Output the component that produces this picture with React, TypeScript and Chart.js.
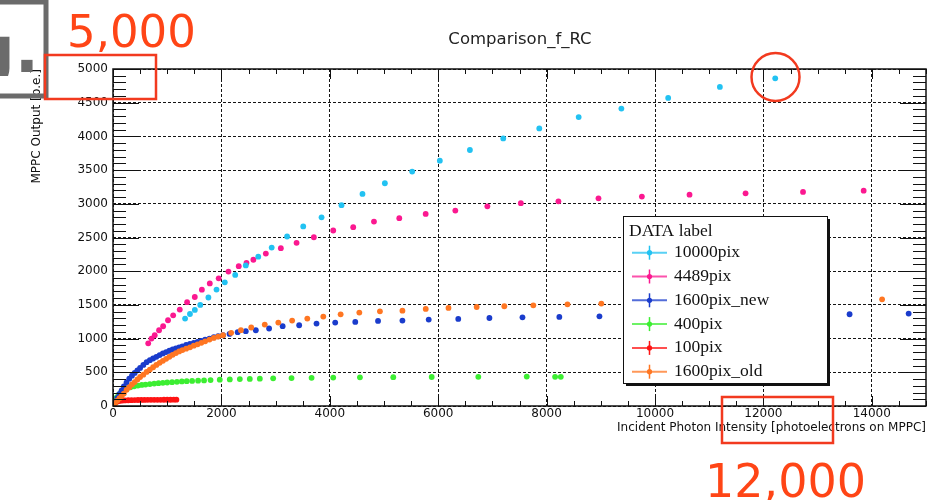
import React, { useEffect, useRef } from 'react';
import { Chart, registerables } from 'chart.js';

Chart.register(...registerables);

// ---------------- data ----------------
const chartTitle = 'Comparison_f_RC';
const xAxisTitle = 'Incident Photon Intensity [photoelectrons on MPPC]';
const yAxisTitle = 'MPPC Output [p.e.]';
const legendTitle = 'DATA label';

const xTicks = [0, 2000, 4000, 6000, 8000, 10000, 12000, 14000];
const yTicks = [0, 500, 1000, 1500, 2000, 2500, 3000, 3500, 4000, 4500, 5000];
const xMin = 0;
const xMax = 15000;
const yMin = 0;
const yMax = 5000;

const seriesNames = ['10000pix', '4489pix', '1600pix_new', '400pix', '100pix', '1600pix_old'];
const seriesColors = ['#22c2f2', '#fb1890', '#1a3ccc', '#3cee32', '#ff1414', '#ff7622'];

const x10000 = [1330, 1420, 1510, 1610, 1760, 1910, 2063, 2255, 2450, 2680, 2928, 3212, 3510, 3848, 4216, 4603, 5016, 5520, 6030, 6585, 7200, 7865, 8592, 9380, 10243, 11197, 12218];
const y10000 = [1297, 1365, 1425, 1500, 1610, 1728, 1835, 1945, 2085, 2215, 2350, 2515, 2665, 2800, 2980, 3147, 3305, 3478, 3640, 3798, 3970, 4118, 4286, 4413, 4571, 4734, 4862];

const x4489 = [650, 710, 770, 850, 925, 1015, 1110, 1232, 1367, 1509, 1640, 1786, 1950, 2130, 2320, 2463, 2590, 2820, 3097, 3387, 3706, 4063, 4432, 4815, 5282, 5769, 6316, 6907, 7525, 8218, 8957, 9758, 10637, 11671, 12731, 13850];
const y4489 = [930, 1001, 1050, 1124, 1183, 1272, 1346, 1430, 1540, 1617, 1726, 1818, 1895, 1995, 2075, 2125, 2170, 2262, 2342, 2421, 2504, 2604, 2653, 2737, 2786, 2850, 2899, 2963, 3010, 3037, 3081, 3107, 3136, 3155, 3176, 3195];

const x1600new = [0, 40, 80, 120, 160, 200, 250, 300, 350, 400, 450, 500, 560, 620, 680, 740, 800, 860, 920, 980, 1040, 1100, 1160, 1220, 1280, 1350, 1420, 1490, 1560, 1630, 1700, 1780, 1860, 1940, 2030, 2150, 2300, 2450, 2635, 2880, 3130, 3435, 3755, 4100, 4470, 4890, 5340, 5825, 6370, 6945, 7555, 8235, 8975, 13590, 14680];
const y1600new = [0, 60, 120, 180, 230, 290, 350, 405, 450, 490, 530, 565, 610, 650, 680, 705, 730, 755, 780, 800, 820, 840, 855, 870, 885, 905, 920, 935, 950, 965, 985, 1000, 1020, 1035, 1050, 1070, 1095, 1110, 1124, 1150, 1185, 1198, 1223, 1238, 1247, 1262, 1268, 1283, 1292, 1306, 1315, 1321, 1331, 1361, 1371];

const x400 = [20, 60, 100, 150, 200, 260, 320, 390, 460, 530, 600, 680, 760, 840, 920, 1000, 1090, 1180, 1270, 1360, 1460, 1570, 1680, 1800, 1970, 2155, 2340, 2524, 2709, 2955, 3294, 3664, 4063, 4556, 5171, 5880, 6740, 7634, 8157, 8262];
const y400 = [60, 120, 165, 205, 235, 260, 278, 292, 303, 312, 318, 326, 333, 338, 344, 349, 354, 359, 364, 368, 372, 376, 380, 384, 390, 395, 399, 402, 405, 410, 414, 418, 422, 425, 428, 430, 433, 437, 433, 433];

const x100 = [10, 40, 80, 120, 170, 220, 280, 340, 400, 460, 520, 580, 640, 700, 760, 820, 880, 940, 1000, 1060, 1120, 1170];
const y100 = [15, 45, 65, 75, 80, 83, 85, 87, 88, 89, 90, 90, 91, 91, 92, 92, 92, 93, 93, 93, 94, 94];

const x1600old = [0, 40, 80, 120, 160, 200, 250, 300, 350, 400, 450, 500, 560, 620, 680, 740, 800, 860, 920, 980, 1040, 1100, 1160, 1220, 1280, 1350, 1420, 1490, 1560, 1630, 1700, 1780, 1860, 1940, 2030, 2180, 2360, 2550, 2800, 3050, 3305, 3585, 3880, 4200, 4545, 4925, 5340, 5770, 6190, 6710, 7220, 7755, 8385, 9010, 14190];
const y1600old = [0, 40, 80, 115, 150, 185, 240, 280, 320, 355, 395, 430, 465, 505, 540, 575, 610, 640, 670, 700, 730, 760, 785, 810, 830, 850, 870, 895, 915, 938, 960, 985, 1010, 1030, 1050, 1085, 1125, 1165, 1208, 1238, 1268, 1297, 1327, 1360, 1386, 1405, 1415, 1440, 1455, 1469, 1480, 1494, 1509, 1519, 1583];

const seriesX = [x10000, x4489, x1600new, x400, x100, x1600old];
const seriesY = [y10000, y4489, y1600new, y400, y100, y1600old];
const drawOrder = [2, 3, 4, 5, 6, 1];

// annotation texts
const noteTopText = '5,000';
const noteBottomText = '12,000';
const slideFragment = 'g.';

// ---------------- plugin ----------------
const FONT = '"DejaVu Sans", "Liberation Sans", sans-serif';
const SERIF = '"Liberation Serif", "DejaVu Serif", serif';

const decorPlugin = {
  id: 'rootDecor',
  afterDraw(chart: any) {
    const { ctx, chartArea: a, scales } = chart;
    const xs = scales.x;
    const ys = scales.y;
    ctx.save();

    // inward ticks (ROOT style)
    ctx.strokeStyle = '#111';
    ctx.lineWidth = 1;
    ctx.beginPath();
    for (let v = xMin; v <= xMax; v += 500) {
      const px = Math.round(xs.getPixelForValue(v)) + 0.5;
      const len = v % 2000 === 0 ? 10 : 5;
      ctx.moveTo(px, a.bottom);
      ctx.lineTo(px, a.bottom - len);
      ctx.moveTo(px, a.top);
      ctx.lineTo(px, a.top + len);
    }
    for (let v = yMin; v <= yMax; v += 100) {
      const py = Math.round(ys.getPixelForValue(v)) + 0.5;
      const len = v % 500 === 0 ? 26 : 13;
      ctx.moveTo(a.left, py);
      ctx.lineTo(a.left + len, py);
      ctx.moveTo(a.right, py);
      ctx.lineTo(a.right - len, py);
    }
    ctx.stroke();

    // frame
    ctx.lineWidth = 1.5;
    ctx.strokeStyle = '#111';
    ctx.strokeRect(a.left, a.top, a.right - a.left, a.bottom - a.top);

    // title
    ctx.fillStyle = '#222';
    ctx.font = `16.5px ${FONT}`;
    ctx.textAlign = 'center';
    ctx.textBaseline = 'middle';
    ctx.fillText(chartTitle, 520, 40);

    // legend box
    const lx = 623, ly = 216, lw = 204, lh = 167;
    ctx.fillStyle = '#111';
    ctx.fillRect(lx + 3, ly + 3, lw, lh);
    ctx.fillStyle = '#fff';
    ctx.fillRect(lx, ly, lw, lh);
    ctx.strokeStyle = '#111';
    ctx.lineWidth = 1;
    ctx.strokeRect(lx + 0.5, ly + 0.5, lw, lh);
    ctx.fillStyle = '#111';
    ctx.font = `17.5px ${SERIF}`;
    ctx.textAlign = 'left';
    ctx.textBaseline = 'middle';
    ctx.fillText(legendTitle, lx + 6, ly + 15);
    chart.data.datasets.forEach((ds: any, i: number) => {
      const cy = 252.7 + i * 23.8;
      ctx.strokeStyle = ds.backgroundColor;
      ctx.globalAlpha = 0.75;
      ctx.lineWidth = 2;
      ctx.beginPath();
      ctx.moveTo(632, cy);
      ctx.lineTo(667, cy);
      ctx.stroke();
      ctx.globalAlpha = 1;
      ctx.lineWidth = 1.5;
      ctx.beginPath();
      ctx.moveTo(649.5, cy - 7);
      ctx.lineTo(649.5, cy + 7);
      ctx.stroke();
      ctx.fillStyle = ds.backgroundColor;
      ctx.beginPath();
      ctx.arc(649.5, cy, 2.6, 0, Math.PI * 2);
      ctx.fill();
      ctx.fillStyle = '#111';
      ctx.fillText(ds.label, 674, cy);
    });

    // slide fragment (grey box with "g.")
    ctx.save();
    ctx.beginPath();
    ctx.rect(0, 0, 44, 76);
    ctx.clip();
    ctx.fillStyle = '#6b6b6b';
    ctx.font = `bold 64px ${FONT}`;
    ctx.textAlign = 'left';
    ctx.textBaseline = 'alphabetic';
    ctx.fillText(slideFragment, -31, 72);
    ctx.restore();
    ctx.strokeStyle = '#6b6b6b';
    ctx.lineWidth = 5;
    ctx.strokeRect(-10, 2, 56, 94);

    // red annotations
    ctx.strokeStyle = '#f23a1f';
    ctx.lineWidth = 2.5;
    ctx.strokeRect(45, 55, 111, 44);
    ctx.strokeRect(722, 397, 111, 46);
    ctx.beginPath();
    ctx.arc(775.5, 77, 24, 0, Math.PI * 2);
    ctx.stroke();
    ctx.fillStyle = '#ff4516';
    ctx.font = `45px ${FONT}`;
    ctx.textAlign = 'left';
    ctx.textBaseline = 'alphabetic';
    ctx.fillText(noteTopText, 67, 47);
    ctx.font = `46px ${FONT}`;
    ctx.fillText(noteBottomText, 705, 497);

    ctx.restore();
  },
};

export default function App() {
  const canvasRef = useRef<HTMLCanvasElement | null>(null);

  useEffect(() => {
    document.body.style.margin = '0';
    const canvas = canvasRef.current;
    if (!canvas) return;

    const datasets = seriesNames.map((name, i) => ({
      label: name,
      data: seriesX[i].map((x, j) => ({ x, y: seriesY[i][j] })),
      backgroundColor: seriesColors[i],
      borderColor: seriesColors[i],
      pointRadius: 2.9,
      pointBorderWidth: 0,
      showLine: false,
      order: drawOrder[i],
    }));

    const tickFont = { family: FONT, size: 12 };

    const chart = new Chart(canvas, {
      type: 'scatter',
      data: { datasets },
      plugins: [decorPlugin],
      options: {
        animation: false,
        responsive: false,
        events: [],
        layout: { padding: { top: 69, right: 3, left: 0, bottom: 0 } },
        plugins: {
          legend: { display: false },
          title: { display: false },
          tooltip: { enabled: false },
        },
        scales: {
          x: {
            type: 'linear',
            min: xMin,
            max: xMax,
            afterBuildTicks: (s: any) => {
              s.ticks = xTicks.map((v) => ({ value: v }));
            },
            afterFit: (s: any) => {
              s.height = 94;
            },
            ticks: {
              font: tickFont,
              color: '#111',
              padding: 1,
              maxRotation: 0,
              autoSkip: false,
              callback: (v: any) => String(v),
            },
            grid: { color: '#151515', lineWidth: 1, drawTicks: false },
            border: { display: false, dash: [3, 2] },
            title: {
              display: true,
              text: xAxisTitle,
              align: 'end',
              color: '#111',
              font: { family: FONT, size: 12 },
              padding: { top: 0, bottom: 65 },
            },
          },
          y: {
            type: 'linear',
            min: yMin,
            max: yMax,
            afterBuildTicks: (s: any) => {
              s.ticks = yTicks.map((v) => ({ value: v }));
            },
            afterFit: (s: any) => {
              s.width = 113;
            },
            ticks: {
              font: tickFont,
              color: '#111',
              padding: 5,
              autoSkip: false,
              callback: (v: any) => String(v),
            },
            grid: { color: '#151515', lineWidth: 1, drawTicks: false },
            border: { display: false, dash: [3, 2] },
            title: {
              display: true,
              text: yAxisTitle,
              align: 'end',
              color: '#111',
              font: { family: FONT, size: 12 },
              padding: { top: 30, bottom: 0 },
            },
          },
        },
      } as any,
    });

    return () => chart.destroy();
  }, []);

  return (
    <div style={{ position: 'absolute', left: 0, top: 0, width: 930, height: 500, background: '#fff' }}>
      <canvas ref={canvasRef} width={930} height={500} style={{ display: 'block', width: 930, height: 500 }} />
    </div>
  );
}
